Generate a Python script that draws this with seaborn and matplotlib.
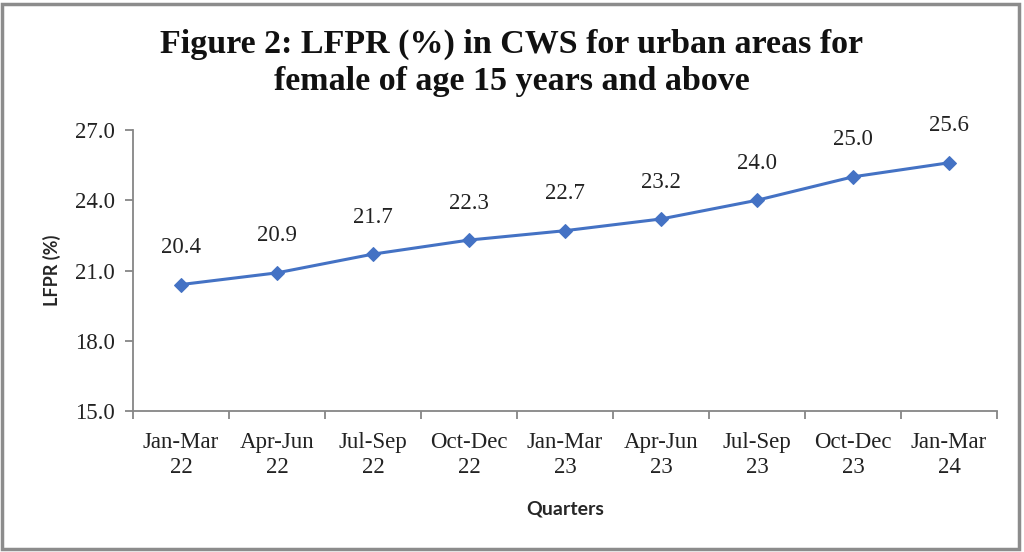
import matplotlib
matplotlib.use("Agg")
import matplotlib.pyplot as plt
import seaborn as sns
import pandas as pd
import numpy as np
from matplotlib.patches import Rectangle
from matplotlib.ticker import FixedLocator, NullFormatter

quarters = ["Jan-Mar\n22", "Apr-Jun\n22", "Jul-Sep\n22", "Oct-Dec\n22", "Jan-Mar\n23",
            "Apr-Jun\n23", "Jul-Sep\n23", "Oct-Dec\n23", "Jan-Mar\n24"]
lfpr = [20.4, 20.9, 21.7, 22.3, 22.7, 23.2, 24.0, 25.0, 25.6]
yticks = [15.0, 18.0, 21.0, 24.0, 27.0]

df = pd.DataFrame({"Quarter": quarters, "LFPR": lfpr})

sns.set_theme(style="white")
plt.rcParams['font.family'] = ['Liberation Serif', 'DejaVu Serif']

fig = plt.figure(figsize=(10.24, 5.52), dpi=100)
ax = fig.add_axes([0.1299, 0.2554, 0.9736 - 0.1299, 0.7645 - 0.2554])

sns.lineplot(data=df, x="Quarter", y="LFPR", ax=ax, sort=False, color="#4472C4",
             linewidth=2.2, marker="D", markersize=7, markeredgecolor="#4472C4")

ax.set_xlim(-0.5, len(quarters) - 0.5)
ax.set_ylim(15, 27)
ax.set_yticks(yticks)
ax.set_yticklabels([f"{v:.1f}" for v in yticks], fontsize=16.5, color="#222222")
ax.set_xticks(range(len(quarters)))
ax.set_xticklabels(quarters, fontsize=16.5, color="#222222", linespacing=1.25)
ax.xaxis.set_minor_locator(FixedLocator(np.arange(-0.5, len(quarters), 1.0)))
ax.xaxis.set_minor_formatter(NullFormatter())
ax.tick_params(axis="x", which="major", length=0, pad=15)
ax.tick_params(axis="x", which="minor", length=6, width=1.3, color="#868686", direction="out", bottom=True)
ax.tick_params(axis="y", which="major", length=6, width=1.3, color="#868686", direction="out", left=True, pad=7)

for s in ["top", "right"]:
    ax.spines[s].set_visible(False)
for s in ["left", "bottom"]:
    ax.spines[s].set_color("#868686")
    ax.spines[s].set_linewidth(1.3)

for i, v in enumerate(lfpr):
    ax.annotate(f"{v:.1f}", (i, v), xytext=(0, 19), textcoords="offset points",
                ha="center", va="bottom", fontsize=16.5, color="#222222")

ax.set_ylabel("LFPR (%)", fontsize=13, fontweight="bold", family=["Lato", "Liberation Sans"], labelpad=10)
ax.set_xlabel("Quarters", fontsize=14, fontweight="bold", family=["Lato", "Liberation Sans"], labelpad=16)

fig.text(0.5, 0.886, "Figure 2: LFPR (%) in CWS for urban areas for\nfemale of age 15 years and above",
         ha="center", va="center", fontsize=24.5, fontweight="bold", linespacing=1.22,
         family=["Liberation Serif"], color="#111111")

fig.patches.append(Rectangle((0.002, 0.006), 0.993, 0.986, transform=fig.transFigure,
                             fill=False, edgecolor="#8c8c8c", linewidth=2.5))

fig.savefig("out.png", dpi=100, facecolor="white")
